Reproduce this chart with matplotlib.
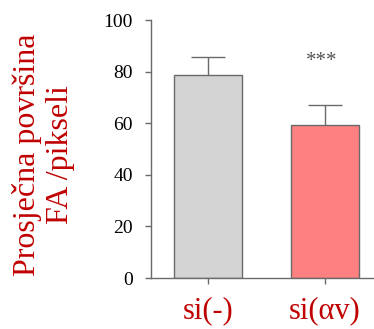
import matplotlib
matplotlib.use("Agg")
import matplotlib.pyplot as plt

# Data
groups = ["si(-)", "si(αv)"]
means = [78.7, 59.3]
errors = [7.1, 7.6]
bar_colors = ["#d4d4d4", "#ff8080"]
yticks = [0, 20, 40, 60, 80, 100]
significance = ["", "***"]

plt.rcParams["font.family"] = ["Liberation Serif", "DejaVu Serif"]

fig = plt.figure(figsize=(3.74, 3.29), dpi=100)
ax = fig.add_axes([0.403, 0.155, 0.597, 0.784])

edge = "#6a6a6a"
bar_w = 0.585
x = list(range(len(groups)))
ax.bar(x, means, width=bar_w, color=bar_colors, edgecolor=edge,
       linewidth=1.0, zorder=2)

# upper-only error bars with a cap at the top
tops = [m + e for m, e in zip(means, errors)]
ax.vlines(x, means, tops, colors=edge, linewidth=1.0, zorder=3)
ax.hlines(tops, [xi - bar_w / 4 for xi in x], [xi + bar_w / 4 for xi in x],
          colors=edge, linewidth=1.0, zorder=3)

for xi, s in zip(x, significance):
    if s:
        ax.text(xi - 0.03, 84, s, ha="center", va="center", fontsize=15,
                color="#555555")

ax.set_xlim(-0.494, 1.42)
ax.set_ylim(0, 100)
ax.set_yticks(yticks)
ax.set_xticks(x)
ax.set_xticklabels(groups, fontsize=22, color="#c00000")
ax.tick_params(axis="y", labelsize=14, length=4, width=1.0,
               color=edge, pad=9)
ax.tick_params(axis="x", length=4, width=1.0, color=edge, pad=9)

for side in ["top", "right"]:
    ax.spines[side].set_visible(False)
for side in ["left", "bottom"]:
    ax.spines[side].set_color(edge)
    ax.spines[side].set_linewidth(1.0)

fig.text(0.117, 0.529, "Prosječna površina\nFA /pikseli", rotation=90,
         ha="center", va="center", fontsize=23, color="#c00000",
         linespacing=1.17)

fig.savefig("out.png", dpi=100)
